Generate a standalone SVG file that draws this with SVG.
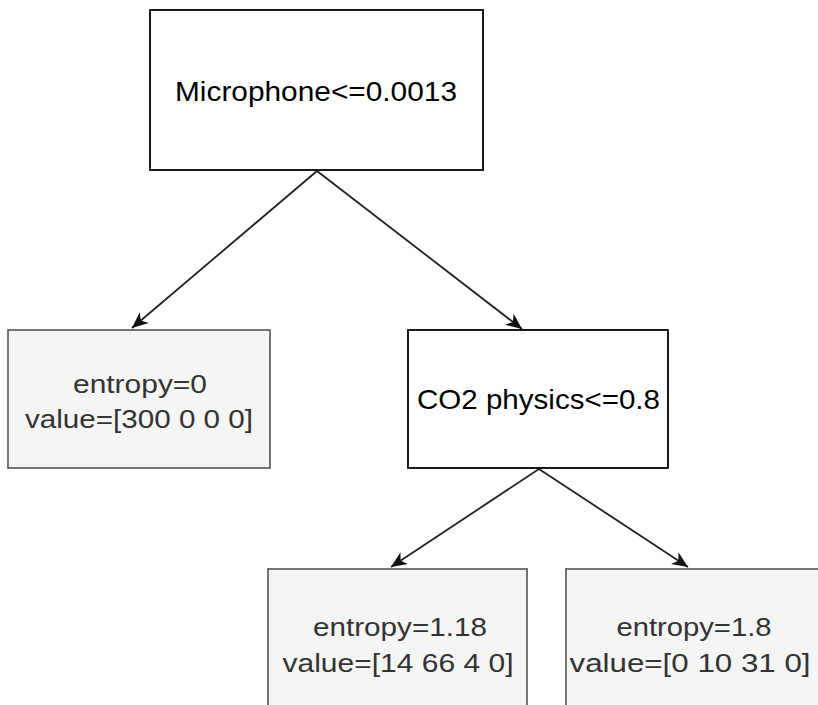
<svg xmlns="http://www.w3.org/2000/svg" width="818" height="705" viewBox="0 0 818 705">
<style>
.dec rect{fill:#ffffff;stroke:#000000;stroke-width:1.8}
.leaf rect{fill:#f5f5f5;stroke:#666666;stroke-width:1.8}
.dec text{font-family:"Liberation Sans",Arial,sans-serif;font-size:28px;fill:#000000;text-anchor:middle}
.leaf text{font-family:"Liberation Sans",Arial,sans-serif;font-size:26px;fill:#333333;text-anchor:middle}
.edge{stroke:#222222;stroke-width:1.8;fill:none;marker-end:url(#arr)}
</style>
<defs>
<marker id="arr" markerWidth="18" markerHeight="14" refX="16" refY="7" orient="auto" markerUnits="userSpaceOnUse">
<path d="M0,0 L16,7 L0,14 L4.5,7 Z" fill="#111111"/>
</marker>
</defs>
<rect x="0" y="0" width="818" height="705" fill="#ffffff"/>
<g id="connectors">
<line class="edge" x1="317" y1="171" x2="132" y2="328"/>
<line class="edge" x1="317" y1="171" x2="522" y2="329"/>
<line class="edge" x1="539" y1="469" x2="391" y2="567"/>
<line class="edge" x1="539" y1="469" x2="688" y2="567"/>
</g>
<g id="root" class="dec">
<rect x="150" y="10" width="333" height="160"/>
<text x="316" y="101" textLength="282" lengthAdjust="spacingAndGlyphs">Microphone&lt;=0.0013</text>
</g>
<g id="leaf-left" class="leaf">
<rect x="8" y="330" width="262" height="138"/>
<text x="140" y="393" textLength="134" lengthAdjust="spacingAndGlyphs">entropy=0</text>
<text x="139" y="428" textLength="228" lengthAdjust="spacingAndGlyphs">value=[300 0 0 0]</text>
</g>
<g id="co2" class="dec">
<rect x="408" y="330" width="260" height="138"/>
<text x="538.5" y="409" textLength="243" lengthAdjust="spacingAndGlyphs">CO2 physics&lt;=0.8</text>
</g>
<g id="leaf-bl" class="leaf">
<rect x="268" y="569" width="259" height="150"/>
<text x="400" y="636" textLength="174" lengthAdjust="spacingAndGlyphs">entropy=1.18</text>
<text x="398" y="672" textLength="231" lengthAdjust="spacingAndGlyphs">value=[14 66 4 0]</text>
</g>
<g id="leaf-br" class="leaf">
<rect x="566" y="569" width="270" height="150"/>
<text x="694" y="636" textLength="155" lengthAdjust="spacingAndGlyphs">entropy=1.8</text>
<text x="690" y="672" textLength="241" lengthAdjust="spacingAndGlyphs">value=[0 10 31 0]</text>
</g>
</svg>
